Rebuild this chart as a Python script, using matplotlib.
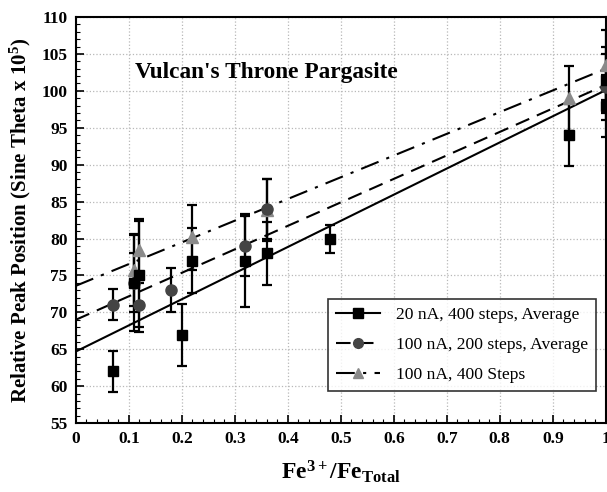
import matplotlib
matplotlib.use("Agg")
import matplotlib.pyplot as plt
import numpy as np
from matplotlib.lines import Line2D
from matplotlib.ticker import MultipleLocator

plt.rcParams['font.family'] = ['Liberation Serif', 'DejaVu Serif']
plt.rcParams['mathtext.fontset'] = 'custom'
plt.rcParams['mathtext.rm'] = 'Liberation Serif:bold'
plt.rcParams['mathtext.bf'] = 'Liberation Serif:bold'
plt.rcParams['mathtext.it'] = 'Liberation Serif:bold'

# Series 1: 20 nA, 400 steps, Average (squares)
s1_x = [0.07, 0.11, 0.12, 0.20, 0.22, 0.32, 0.36, 0.48, 0.93, 1.00, 1.00]
s1_y = [62.0, 74.0, 75.0, 67.0, 77.0, 77.0, 78.0, 80.0, 94.0, 98.0, 101.5]
s1_e = [2.8, 6.5, 7.7, 4.2, 4.4, 6.3, 4.3, 1.9, 4.2, 4.2, 4.5]

# Series 2: 100 nA, 200 steps, Average (circles)
s2_x = [0.07, 0.11, 0.12, 0.18, 0.32, 0.36, 1.00]
s2_y = [71.0, 74.0, 71.0, 73.0, 79.0, 84.0, 100.5]
s2_e = [2.1, 4.0, 3.0, 3.0, 4.1, 4.0, 4.5]

# Series 3: 100 nA, 400 Steps (triangles)
s3_x = [0.11, 0.12, 0.22, 0.36, 0.93, 1.00]
s3_y = [75.7, 78.4, 80.2, 83.8, 99.0, 103.5]
s3_e = [4.9, 4.0, 4.4, 4.2, 4.4, 4.7]

# Linear fits (intercept, slope)
fit1 = [64.7, 35.4]
fit2 = [69.0, 31.8]
fit3 = [73.6, 29.4]

labels = ["20 nA, 400 steps, Average", "100 nA, 200 steps, Average", "100 nA, 400 Steps"]

fig = plt.figure(figsize=(6.07, 4.92), dpi=100)
ax = fig.add_axes([0.125, 0.140, 0.873, 0.8254])

xs = np.array([0.0, 1.0])
ax.plot(xs, fit1[0] + fit1[1] * xs, color='black', lw=1.5, ls='-', zorder=2)
ax.plot(xs, fit2[0] + fit2[1] * xs, color='black', lw=1.5, ls=(0, (7, 4)), zorder=2)
ax.plot(xs, fit3[0] + fit3[1] * xs, color='black', lw=1.5, ls=(0, (9, 4, 1.5, 4)), zorder=2)

ekw = dict(ecolor='black', elinewidth=1.6, capsize=3.5, capthick=1.6, ls='none', zorder=3)
ax.errorbar(s3_x, s3_y, yerr=s3_e, fmt='^', color='#8a8a8a', ms=8, mec='#8a8a8a', **ekw)
ax.errorbar(s2_x, s2_y, yerr=s2_e, fmt='o', color='#444444', ms=8, mec='#444444', **ekw)
ax.errorbar(s1_x, s1_y, yerr=s1_e, fmt='s', color='black', ms=7.5, mec='black', **ekw)

ax.set_xlim(0, 1)
ax.set_ylim(55, 110)
ax.xaxis.set_major_locator(MultipleLocator(0.1))
ax.xaxis.set_minor_locator(MultipleLocator(0.02))
ax.yaxis.set_major_locator(MultipleLocator(5))
ax.yaxis.set_minor_locator(MultipleLocator(1))
ax.set_xticks(np.arange(0, 1.01, 0.1))
ax.set_xticklabels(['0', '0.1', '0.2', '0.3', '0.4', '0.5', '0.6', '0.7', '0.8', '0.9', '1'])
ax.tick_params(which='both', direction='in', top=False, right=False)
ax.tick_params(which='major', length=6, width=1.2, labelsize=12.5, pad=6)
ax.tick_params(which='minor', length=3, width=0.8)
for lab in ax.get_xticklabels() + ax.get_yticklabels():
    lab.set_fontweight('bold')
ax.grid(True, which='major', ls=':', color='#b8b8b8', lw=0.9)
for sp in ax.spines.values():
    sp.set_linewidth(1.5)

ax.set_ylabel('Relative Peak Position (Sine Theta x 10$^5$)', fontsize=15, fontweight='bold', labelpad=6)
ax.set_xlabel('Fe$^{3+}$/Fe$_{Total}$', fontsize=17, fontweight='bold', labelpad=8)

ax.text(0.111, 102.5, "Vulcan's Throne Pargasite", fontsize=16.8, fontweight='bold', va='center', ha='left')

handles = [
    Line2D([0], [0], color='black', ls='-', lw=1.5, marker='s', ms=7, mfc='black', mec='black'),
    Line2D([0], [0], color='black', ls=(0, (7, 4)), lw=1.5, marker='o', ms=7, mfc='#444444', mec='#444444'),
    Line2D([0], [0], color='black', ls=(0, (9, 4, 1.5, 4)), lw=1.5, marker='^', ms=7, mfc='#8a8a8a', mec='#8a8a8a'),
]
leg = ax.legend(handles, labels, loc='lower right', bbox_to_anchor=(0.981, 0.079),
                fontsize=12.6, frameon=True, fancybox=False, edgecolor='black',
                handlelength=2.5, labelspacing=0.78, borderpad=0.45, borderaxespad=0,
                handletextpad=0.9)
leg.get_frame().set_linewidth(1.2)

fig.savefig('out.png', dpi=100)
